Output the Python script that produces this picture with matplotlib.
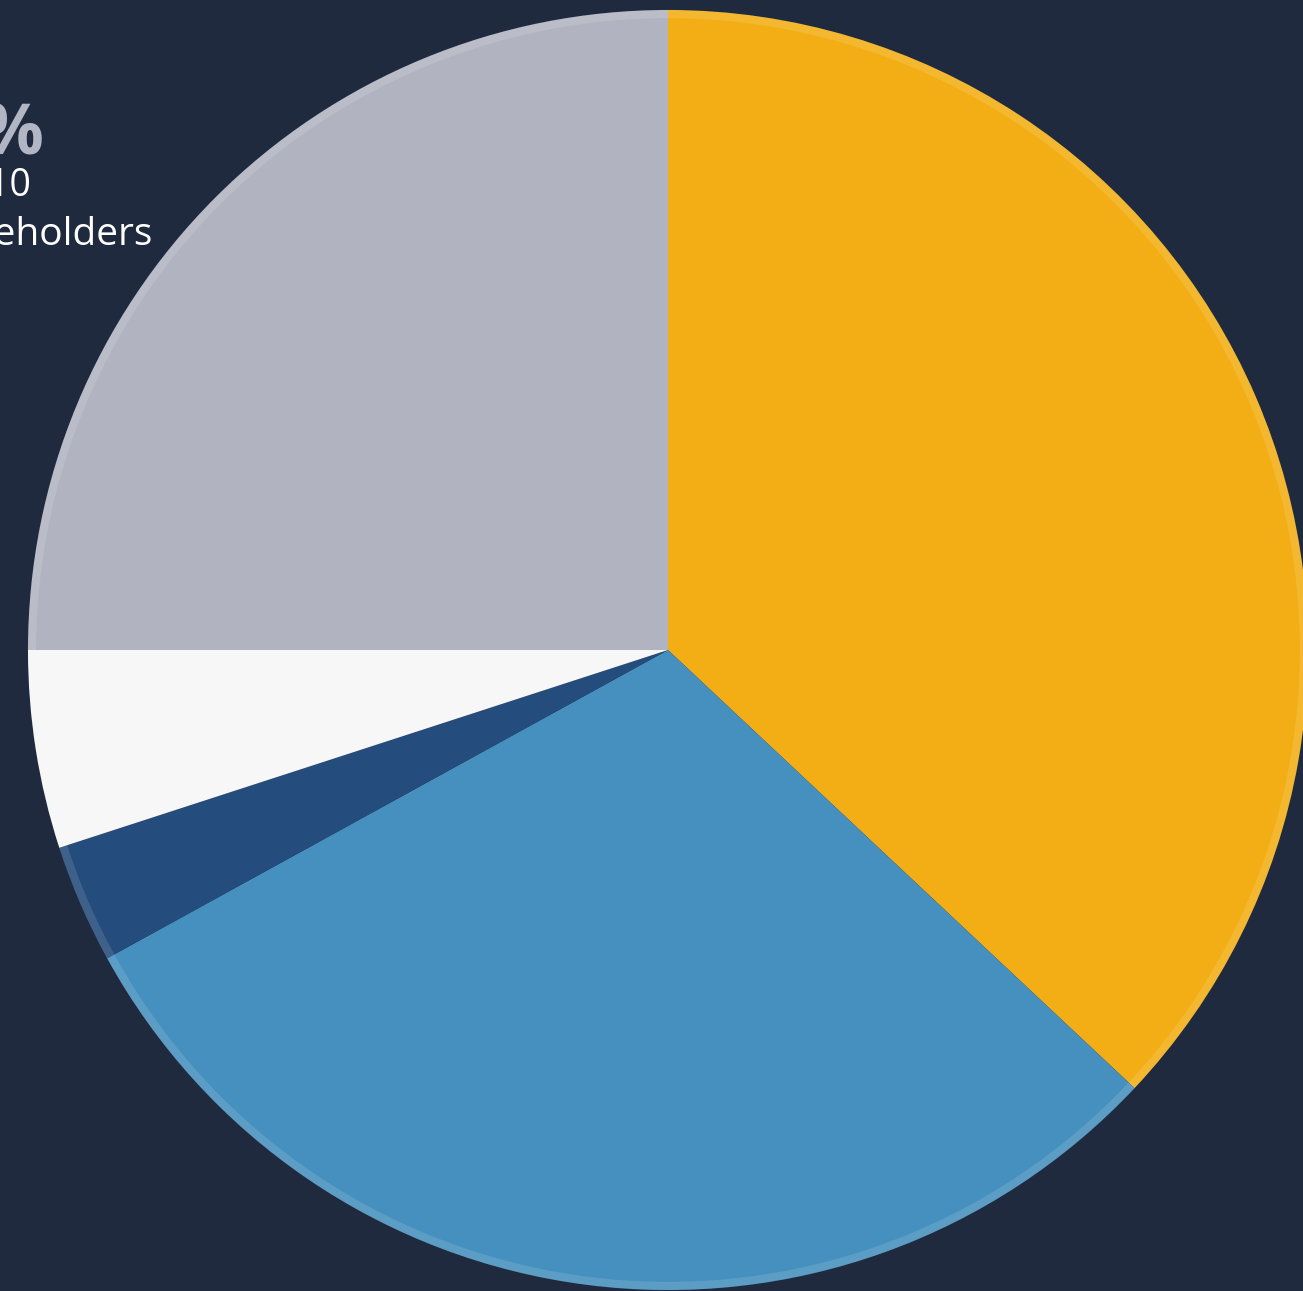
import matplotlib
matplotlib.use('Agg')
import matplotlib.pyplot as plt

# shareholder split, clockwise from 12 o'clock
labels = ['Largest holder', 'Second group', 'Third group', 'Others', 'Remaining']
shares = [37.0, 30.0, 3.0, 5.0, 25.0]
colors = ['#F2AE14', '#4590BE', '#244C7C', '#F7F7F7', '#B1B3C1']

W, H = 1303, 1291
fig = plt.figure(figsize=(W / 100, H / 100), dpi=100)
fig.patch.set_facecolor('#1f2a3f')
ax = fig.add_axes([0, 0, 1, 1])
ax.set_facecolor('#1f2a3f')

wedges, _ = ax.pie(shares, colors=colors, startangle=90, counterclock=False,
                   center=(668, H - 650), radius=640,
                   wedgeprops=dict(linewidth=0))

# faint lighter rim round the pie
rim = plt.Circle((668, H - 650), 636, fill=False, edgecolor='white', alpha=0.12, linewidth=6)
ax.add_patch(rim)

ax.set_xlim(0, W)
ax.set_ylim(0, H)
ax.set_aspect('equal')
ax.axis('off')

# caption, partly outside the frame like the original
fig.text(44 / W, 1 - 153 / H, '37%', ha='right', va='baseline', fontsize=50,
         fontweight='bold', color='#b2b6c4', family='Open Sans')
fig.text(31 / W, 1 - 196 / H, 'Top 10', ha='right', va='baseline', fontsize=27,
         color='white', family='Open Sans')
fig.text(152 / W, 1 - 245 / H, 'Shareholders', ha='right', va='baseline', fontsize=28,
         color='white', family='Open Sans')

fig.savefig('out.png', dpi=100, facecolor=fig.get_facecolor())
